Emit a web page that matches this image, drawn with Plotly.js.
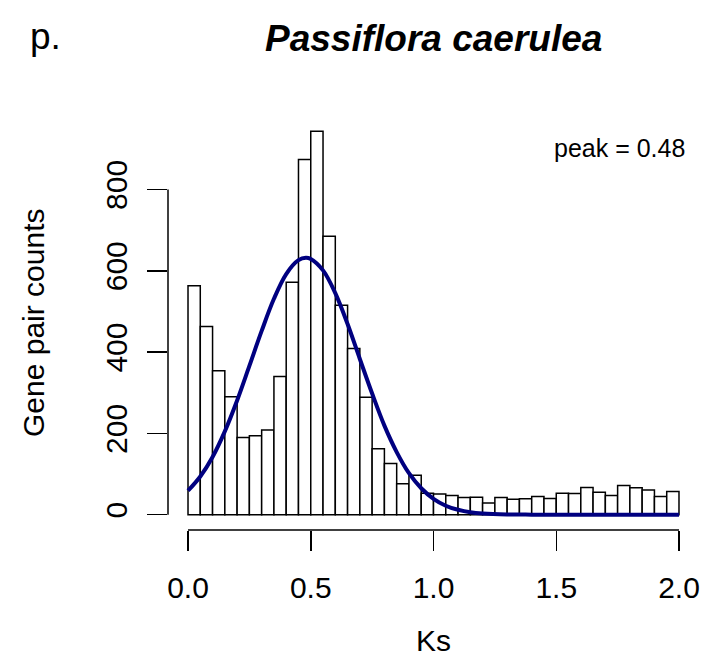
<!DOCTYPE html>
<html>
<head>
<meta charset="utf-8">
<script src="https://cdn.plot.ly/plotly-3.0.1.min.js"></script>
<style>html,body{margin:0;padding:0;background:#fff;}#chart{width:704px;height:665px;}</style>
</head>
<body>
<div id="chart"></div>
<script>
// Histogram bins (Ks, bin width 0.05): bin centres and gene pair counts
var binCenters = [0.025,0.075,0.125,0.175,0.225,0.275,0.325,0.375,0.425,0.475,
                  0.525,0.575,0.625,0.675,0.725,0.775,0.825,0.875,0.925,0.975,
                  1.025,1.075,1.125,1.175,1.225,1.275,1.325,1.375,1.425,1.475,
                  1.525,1.575,1.625,1.675,1.725,1.775,1.825,1.875,1.925,1.975];
var counts = [563,463,354,290,190,194,208,340,572,874,
              943,685,515,409,289,162,126,76,97,53,
              51,47,42,43,29,42,38,39,45,40,
              53,52,67,55,47,72,66,61,45,57];
// Fitted curve
var curveX = [0,0.05,0.1,0.15,0.2,0.25,0.3,0.35,0.4,0.45,0.48,0.5,0.55,0.6,0.65,0.7,0.75,0.8,0.85,0.9,0.95,1.0,1.05,1.1,1.15,1.2,1.3,1.4,1.5,1.75,2.0];
var curveY = [59,94,142,205,281,366,452,531,592,626,632,629,601,545,469,383,298,219,154,102,65,39,22,12,6,3,0.6,0.1,0,0,0];
var xTicks = [0,0.5,1,1.5,2];
var xTickText = ['0.0','0.5','1.0','1.5','2.0'];
var yTicks = [0,200,400,600,800];
var yTickText = ['0','200','400','600','800'];
var titleText = 'Passiflora caerulea';
var panelLabel = 'p.';
var peakText = 'peak = 0.48';
var xTitle = 'Ks';
var yTitle = 'Gene pair counts';

var L = 168, R = 5, T = 116, B = 135, W = 704, H = 665;
var pw = W - L - R, ph = H - T - B;
function px(X){ return (X - L) / pw; }
function py(Y){ return (H - B - Y) / ph; }
var FONT = 'Liberation Sans, Arial, Helvetica, sans-serif';

var traces = [
  {type:'bar', x:binCenters, y:counts, width:0.05,
   marker:{color:'#ffffff', line:{color:'#000000', width:1.5}}, hoverinfo:'skip'},
  {type:'scatter', mode:'lines', x:curveX, y:curveY,
   line:{color:'#000080', width:4, shape:'spline', smoothing:1}, hoverinfo:'skip'}
];

var layout = {
  width:W, height:H, showlegend:false,
  paper_bgcolor:'#ffffff', plot_bgcolor:'#ffffff',
  margin:{l:L, r:R, t:T, b:B, pad:0},
  bargap:0,
  font:{family:FONT, color:'#000000'},
  xaxis:{range:[-0.0815, 2.0815], showgrid:false, zeroline:false, showline:false,
         tickmode:'array', tickvals:xTicks, ticktext:xTickText,
         ticks:'outside', ticklen:20, tickwidth:1.5, tickcolor:'#000',
         tickfont:{size:30, family:FONT, color:'#000'}, ticklabelstandoff:11},
  yaxis:{range:[-37.7, 980.7], showgrid:false, zeroline:false, showline:false,
         tickmode:'array', tickvals:yTicks, ticktext:yTickText,
         ticks:'outside', ticklen:20, tickwidth:1.5, tickcolor:'#000', tickangle:-90,
         tickfont:{size:30, family:FONT, color:'#000'}, ticklabelstandoff:8},
  shapes:[
    {type:'line', xref:'x', yref:'paper', x0:0, x1:2, y0:0, y1:0, line:{color:'#000', width:1.5}},
    {type:'line', xref:'paper', yref:'y', x0:0, x1:0, y0:0, y1:800, line:{color:'#000', width:1.5}}
  ],
  annotations:[
    {text:'<b><i>'+titleText+'</i></b>', xref:'paper', yref:'paper', x:px(433.5), y:py(38),
     xanchor:'center', yanchor:'middle', showarrow:false, font:{size:37, family:FONT, color:'#000'}},
    {text:panelLabel, xref:'paper', yref:'paper', x:px(28), y:py(36),
     xanchor:'left', yanchor:'middle', showarrow:false, font:{size:37, family:FONT, color:'#000'}},
    {text:peakText, xref:'paper', yref:'paper', x:px(687), y:py(148),
     xanchor:'right', yanchor:'middle', showarrow:false, font:{size:25, family:FONT, color:'#000'}},
    {text:xTitle, xref:'paper', yref:'paper', x:px(433.5), y:py(640),
     xanchor:'center', yanchor:'middle', showarrow:false, font:{size:30, family:FONT, color:'#000'}},
    {text:yTitle, xref:'paper', yref:'paper', x:px(33), y:py(323), textangle:-90,
     xanchor:'center', yanchor:'middle', showarrow:false, font:{size:30, family:FONT, color:'#000'}}
  ]
};

Plotly.newPlot('chart', traces, layout, {staticPlot:true, displayModeBar:false});
</script>
</body>
</html>
